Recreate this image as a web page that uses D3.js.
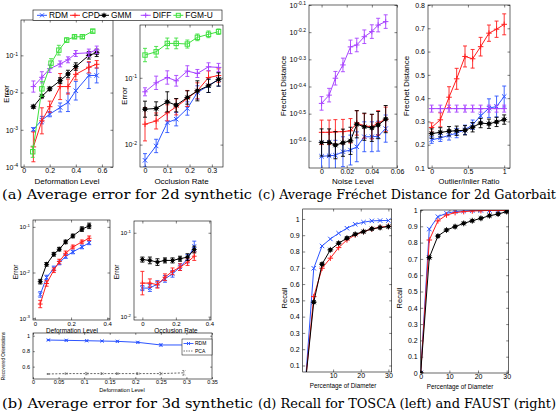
<!DOCTYPE html>
<html><head><meta charset="utf-8">
<script src="https://cdn.jsdelivr.net/npm/d3@7"></script>
<style>body{margin:0;background:#fff}svg{display:block}</style>
</head><body>
<svg id="c" width="559" height="413"></svg>
<script>
// ---------- (a) 2d synthetic : deformation ----------
const aDefX    = [0.075, 0.14, 0.2, 0.28, 0.34, 0.4, 0.5, 0.56];
const aDefXFgm = [0.07, 0.14, 0.21, 0.27, 0.33, 0.39, 0.45, 0.53];
const aDefRDM  = [0.00102, 0.00182, 0.00263, 0.00398, 0.0055, 0.0112, 0.0288, 0.0288];
const aDefCPD  = [0.000347, 0.00174, 0.00417, 0.0145, 0.0145, 0.0309, 0.0479, 0.0575];
const aDefGMM  = [0.00417, 0.00794, 0.0126, 0.0209, 0.0316, 0.0501, 0.1, 0.117];
const aDefDIFF = [0.0145, 0.0257, 0.0437, 0.0589, 0.0759, 0.112, 0.117, 0.141];
const aDefFGM  = [0.000257, 0.0126, 0.0617, 0.138, 0.257, 0.316, 0.316, 0.447];
const aDefRDMe  = [0.05, 0.1, 0.07, 0.12, 0.25, 0.25, 0.35, 0.2];
const aDefCPDe  = [0.4, 0.35, 0.15, 0.35, 0.2, 0.15, 0.15, 0.1];
const aDefGMMe  = [0.04, 0.04, 0.05, 0.08, 0.1, 0.1, 0.1, 0.1];
const aDefDIFFe = [0.15, 0.15, 0.1, 0.08, 0.08, 0.08, 0.1, 0.1];
const aDefFGMe  = [0.15, 0.2, 0.12, 0.13, 0.06, 0.05, 0.05, 0.05];
// ---------- (a) 2d synthetic : occlusion ----------
const aOccX    = [0, 0.05, 0.1, 0.14, 0.19, 0.235, 0.285, 0.33];
const aOccRDM  = [0.00582, 0.00955, 0.0214, 0.024, 0.0347, 0.0603, 0.0759, 0.0944];
const aOccCPD  = [0.0202, 0.0226, 0.0299, 0.0367, 0.049, 0.0638, 0.101, 0.108];
const aOccGMM  = [0.0339, 0.0347, 0.0437, 0.0389, 0.0507, 0.0638, 0.0759, 0.0944];
const aOccDIFF = [0.0617, 0.0841, 0.101, 0.0902, 0.126, 0.116, 0.146, 0.143];
const aOccFGM  = [0.219, 0.245, 0.327, 0.327, 0.32, 0.403, 0.447, 0.49];
const aOccRDMe  = [0.1, 0.1, 0.15, 0.1, 0.1, 0.1, 0.1, 0.1];
const aOccCPDe  = [0.25, 0.12, 0.12, 0.12, 0.12, 0.12, 0.1, 0.1];
const aOccGMMe  = [0.12, 0.1, 0.15, 0.1, 0.1, 0.15, 0.1, 0.1];
const aOccDIFFe = [0.06, 0.1, 0.1, 0.08, 0.08, 0.06, 0.06, 0.06];
const aOccFGMe  = [0.1, 0.08, 0.08, 0.08, 0.06, 0.05, 0.05, 0.04];
// ---------- (c) Gatorbait : noise ----------
const cNoiseX    = [0, 0.006, 0.011, 0.017, 0.023, 0.028, 0.034, 0.04, 0.045, 0.051];
const cNoiseRDM  = [0.2203, 0.2213, 0.2223, 0.2291, 0.2323, 0.2388, 0.26, 0.26, 0.2612, 0.2786];
const cNoiseCPD  = [0.27, 0.27, 0.271, 0.2716, 0.2735, 0.2924, 0.2851, 0.2831, 0.2924, 0.3013];
const cNoiseGMM  = [0.2477, 0.2477, 0.2421, 0.2472, 0.2512, 0.2891, 0.2831, 0.2805, 0.2871, 0.302];
const cNoiseDIFF = [0.345, 0.37, 0.427, 0.478, 0.557, 0.566, 0.607, 0.634, 0.67, 0.69];
const cNoiseRDMe  = [0.055, 0.055, 0.055, 0.055, 0.055, 0.055, 0.055, 0.055, 0.055, 0.05];
const cNoiseCPDe  = [0.045, 0.045, 0.045, 0.045, 0.045, 0.045, 0.045, 0.045, 0.045, 0.045];
const cNoiseGMMe  = [0.05, 0.05, 0.05, 0.05, 0.05, 0.05, 0.05, 0.05, 0.05, 0.05];
const cNoiseDIFFe = [0.025, 0.025, 0.025, 0.025, 0.025, 0.025, 0.025, 0.025, 0.025, 0.025];
// ---------- (c) Gatorbait : outliers ----------
const cOutX    = [0, 0.12, 0.24, 0.345, 0.46, 0.565, 0.675, 0.79, 0.895, 1];
const cOutRDM  = [0.221, 0.229, 0.24, 0.25, 0.264, 0.286, 0.324, 0.357, 0.364, 0.407];
const cOutCPD  = [0.274, 0.307, 0.404, 0.483, 0.579, 0.569, 0.621, 0.679, 0.696, 0.717];
const cOutGMM  = [0.248, 0.253, 0.258, 0.26, 0.262, 0.275, 0.293, 0.29, 0.298, 0.308];
const cOutDIFF = [0.355, 0.355, 0.355, 0.355, 0.355, 0.355, 0.355, 0.355, 0.355, 0.355];
const cOutRDMe  = [0.015, 0.015, 0.02, 0.02, 0.02, 0.02, 0.03, 0.04, 0.045, 0.045];
const cOutCPDe  = [0.02, 0.03, 0.045, 0.045, 0.045, 0.04, 0.04, 0.035, 0.035, 0.045];
const cOutGMMe  = [0.02, 0.02, 0.02, 0.02, 0.02, 0.02, 0.02, 0.02, 0.02, 0.02];
const cOutDIFFe = [0.015, 0.015, 0.015, 0.015, 0.015, 0.015, 0.015, 0.015, 0.015, 0.015];
// ---------- (b) 3d synthetic ----------
const bDefX   = [0.03, 0.065, 0.105, 0.135, 0.17, 0.21, 0.26, 0.3];
const bDefRDM = [0.00331, 0.00776, 0.0123, 0.0162, 0.0224, 0.0282, 0.0363, 0.0447];
const bDefCPD = [0.00204, 0.00575, 0.0112, 0.0174, 0.0263, 0.0363, 0.0468, 0.0562];
const bDefGMM = [0.00631, 0.0151, 0.0251, 0.0324, 0.0468, 0.0631, 0.0891, 0.105];
const bDefRDMe = [0.06, 0.05, 0.05, 0.04, 0.04, 0.04, 0.04, 0.04];
const bDefCPDe = [0.08, 0.06, 0.05, 0.05, 0.05, 0.04, 0.04, 0.05];
const bDefGMMe = [0.05, 0.04, 0.04, 0.04, 0.04, 0.04, 0.05, 0.06];
const bOccX   = [0, 0.045, 0.09, 0.135, 0.18, 0.225, 0.27, 0.31];
const bOccRDM = [0.0219, 0.0219, 0.0245, 0.0282, 0.0324, 0.0389, 0.049, 0.0692];
const bOccCPD = [0.0251, 0.0251, 0.024, 0.0295, 0.0347, 0.0389, 0.0447, 0.0525];
const bOccGMM = [0.0479, 0.0468, 0.0447, 0.0468, 0.0468, 0.049, 0.0513, 0.0631];
const bOccRDMe = [0.03, 0.04, 0.04, 0.04, 0.04, 0.04, 0.05, 0.06];
const bOccCPDe = [0.14, 0.05, 0.04, 0.04, 0.04, 0.04, 0.04, 0.05];
const bOccGMMe = [0.03, 0.04, 0.04, 0.03, 0.03, 0.03, 0.04, 0.04];
const bOriX   = [0.03, 0.065, 0.105, 0.135, 0.165, 0.205, 0.25, 0.295];
const bOriRDM = [0.944, 0.94, 0.935, 0.931, 0.927, 0.914, 0.88, 0.88];
const bOriPCA = [0.505, 0.51, 0.51, 0.51, 0.51, 0.51, 0.51, 0.52];
const bOriRDMe = [0.006, 0.006, 0.005, 0.005, 0.006, 0.006, 0.012, 0.01];
const bOriPCAe = [0.005, 0.008, 0.015, 0.01, 0.01, 0.012, 0.015, 0.03];
// ---------- (d) Recall ----------
const dPctX = [0, 3, 6, 9, 12, 15, 18, 21, 24, 27, 30];
const dToscaRDM = [0, 0.697, 0.834, 0.877, 0.912, 0.943, 0.967, 0.98, 0.988, 0.99, 0.99];
const dToscaCPD = [0, 0.523, 0.697, 0.759, 0.824, 0.871, 0.902, 0.922, 0.939, 0.949, 0.955];
const dToscaGMM = [0, 0.489, 0.722, 0.81, 0.851, 0.882, 0.906, 0.922, 0.939, 0.947, 0.953];
const dFaustRDM = [0, 0.883, 0.959, 0.98, 0.99, 0.994, 0.996, 0.997, 0.997, 0.998, 0.999];
const dFaustCPD = [0, 0.816, 0.933, 0.969, 0.984, 0.99, 0.994, 0.996, 0.997, 0.997, 0.997];
const dFaustGMM = [0, 0.708, 0.84, 0.877, 0.898, 0.918, 0.934, 0.949, 0.965, 0.975, 0.99];

const methods = ['RDM', 'CPD', 'GMM', 'DIFF', 'FGM-U'];
const COL = {RDM:'#2d55ff', CPD:'#ff1e1e', GMM:'#000000', DIFF:'#a844ff', 'FGM-U':'#3fe03f', PCA:'#666666'};
const MARK = {RDM:'x', CPD:'+', GMM:'*', DIFF:'+', 'FGM-U':'s', PCA:'none'};

const svg = d3.select('#c');
const SANS = 'Liberation Sans, Arial, Helvetica, sans-serif';
let clipN = 0;

function drawMarker(g, type, px, py, col, s) {
  if (type === 'x') {
    g.append('path').attr('d', `M${px-s},${py-s}L${px+s},${py+s}M${px-s},${py+s}L${px+s},${py-s}`)
      .attr('stroke', col).attr('stroke-width', 1).attr('fill', 'none');
  } else if (type === '+') {
    const t = s * 1.25;
    g.append('path').attr('d', `M${px-t},${py}L${px+t},${py}M${px},${py-t}L${px},${py+t}`)
      .attr('stroke', col).attr('stroke-width', 1).attr('fill', 'none');
  } else if (type === 's') {
    g.append('rect').attr('x', px-s).attr('y', py-s).attr('width', 2*s).attr('height', 2*s)
      .attr('stroke', col).attr('stroke-width', 1).attr('fill', 'none');
  } else if (type === '*') {
    g.append('circle').attr('cx', px).attr('cy', py).attr('r', s*0.95).attr('fill', col);
    const t = s * 1.35, u = t * 0.72;
    g.append('path').attr('d', `M${px-t},${py}L${px+t},${py}M${px},${py-t}L${px},${py+t}M${px-u},${py-u}L${px+u},${py+u}M${px-u},${py+u}L${px+u},${py-u}`)
      .attr('stroke', col).attr('stroke-width', 0.8).attr('fill', 'none');
  }
}

function panel(o) {
  const [x0, y0, x1, y1] = o.box;
  const g = svg.append('g');
  const x = d3.scaleLinear().domain(o.xd).range([x0, x1]);
  const y = (o.log ? d3.scaleLog() : d3.scaleLinear()).domain(o.yd).range([y1, y0]);
  const id = 'clip' + (++clipN);
  svg.append('clipPath').attr('id', id).append('rect')
    .attr('x', x0).attr('y', y0).attr('width', x1 - x0).attr('height', y1 - y0);
  const ts = o.ts || 2.5, fs = o.fs || 7;
  const clean = s => { s.select('.domain').remove(); s.attr('font-family', SANS).attr('font-size', fs);
    s.selectAll('.tick line').attr('stroke-width', 0.5); };
  const bx = g.append('g').attr('transform', `translate(0,${y1})`)
    .call(d3.axisBottom(x).tickValues(o.xt).tickSize(-ts).tickPadding(o.xpad || 1.5).tickFormat(o.xf || (d => d)));
  clean(bx);
  const tx = g.append('g').attr('transform', `translate(0,${y0})`)
    .call(d3.axisTop(x).tickValues(o.xt).tickSize(-ts).tickFormat(''));
  clean(tx);
  const ly = g.append('g').attr('transform', `translate(${x0},0)`)
    .call(d3.axisLeft(y).tickValues(o.yt).tickSize(-ts).tickPadding(o.ypad || 3).tickFormat(o.yf || (d => d)));
  clean(ly);
  if (o.sup) {
    ly.selectAll('.tick text').each(function(d) {
      const t = d3.select(this); t.text(null);
      t.append('tspan').text('10');
      t.append('tspan').attr('dy', '-0.5em').attr('font-size', '0.72em').text(o.sup(d));
    });
  }
  const ry = g.append('g').attr('transform', `translate(${x1},0)`)
    .call(d3.axisRight(y).tickValues(o.yt).tickSize(-ts).tickFormat(''));
  clean(ry);
  const sg = g.append('g').attr('clip-path', `url(#${id})`);
  const cw = o.cap || 2;
  o.series.forEach(s => {
    const col = COL[s.name];
    const pts = s.x.map((xv, i) => ({x: xv, y: s.y[i], e: s.e ? s.e[i] : 0}));
    if (s.e) {
      pts.forEach(p => {
        const lo = o.log ? p.y / Math.pow(10, p.e) : p.y - p.e;
        const hi = o.log ? p.y * Math.pow(10, p.e) : p.y + p.e;
        const px = x(p.x);
        sg.append('path').attr('d',
          `M${px},${y(lo)}L${px},${y(hi)}M${px-cw},${y(lo)}L${px+cw},${y(lo)}M${px-cw},${y(hi)}L${px+cw},${y(hi)}`)
          .attr('stroke', col).attr('stroke-width', 0.9).attr('fill', 'none')
          .attr('stroke-dasharray', s.name === 'PCA' ? '1.5,1' : null);
      });
    }
    sg.append('path').datum(pts)
      .attr('d', d3.line().x(p => x(p.x)).y(p => y(p.y)))
      .attr('fill', 'none').attr('stroke', col).attr('stroke-width', o.lw || 1)
      .attr('stroke-dasharray', s.name === 'PCA' ? '2,1.5' : null);
    pts.forEach(p => drawMarker(sg, MARK[s.name], x(p.x), y(p.y), col, o.ms || 2.2));
  });
  g.append('rect').attr('x', x0).attr('y', y0).attr('width', x1 - x0).attr('height', y1 - y0)
    .attr('fill', 'none').attr('stroke', '#000').attr('stroke-width', 0.6);
  if (o.xl) g.append('text').attr('x', o.xl[1]).attr('y', o.xl[2]).attr('text-anchor', 'middle')
    .attr('font-family', SANS).attr('font-size', o.xl[3]).text(o.xl[0]);
  if (o.yl) g.append('text').attr('transform', `translate(${o.yl[1]},${o.yl[2]}) rotate(-90)`)
    .attr('text-anchor', 'middle').attr('font-family', SANS).attr('font-size', o.yl[3]).text(o.yl[0]);
  return {g, x, y};
}

const ser = (names, xs, ys, es) => names.map((n, i) => ({name: n, x: Array.isArray(xs[0]) ? xs[i] : xs, y: ys[i], e: es ? es[i] : null}));
const intExp = d => '-' + Math.round(-Math.log10(d));
const decExp = d => '-' + (-Math.log10(d)).toFixed(1);

panel({box: [21, 20, 113, 167], xd: [-0.02, 0.685], yd: [1e-4, Math.pow(10, -0.05)], log: true,
  xt: [0, 0.2, 0.4, 0.6], yt: [1e-4, 1e-3, 1e-2, 1e-1], sup: intExp,
  series: ser(methods, [aDefX, aDefX, aDefX, aDefX, aDefXFgm], [aDefRDM, aDefCPD, aDefGMM, aDefDIFF, aDefFGM],
    [aDefRDMe, aDefCPDe, aDefGMMe, aDefDIFFe, aDefFGMe]),
  xl: ['Deformation Level', 67, 183.5, 8], yl: ['Error', 9, 94, 8]});
panel({box: [140, 25, 223, 167], xd: [-0.0225, 0.35], yd: [Math.pow(10, -2.335), Math.pow(10, -0.21)], log: true,
  xt: [0, 0.1, 0.2, 0.3], yt: [1e-2, 1e-1], sup: intExp,
  series: ser(methods, aOccX, [aOccRDM, aOccCPD, aOccGMM, aOccDIFF, aOccFGM],
    [aOccRDMe, aOccCPDe, aOccGMMe, aOccDIFFe, aOccFGMe]),
  xl: ['Occlusion Rate', 181.5, 183.5, 8], yl: ['Error', 127, 96, 8]});
panel({box: [309, 5, 397, 168], xd: [-0.01, 0.06], yd: [Math.pow(10, -0.7), Math.pow(10, -0.1)], log: true,
  xt: [0, 0.02, 0.04, 0.06], yt: [-0.6, -0.5, -0.4, -0.3, -0.2, -0.1].map(e => Math.pow(10, e)), sup: decExp,
  series: ser(['RDM', 'CPD', 'GMM', 'DIFF'], cNoiseX, [cNoiseRDM, cNoiseCPD, cNoiseGMM, cNoiseDIFF],
    [cNoiseRDMe, cNoiseCPDe, cNoiseGMMe, cNoiseDIFFe]),
  xl: ['Noise Level', 353, 183.5, 8], yl: ['Frechet Distance', 286, 86, 8]});
panel({box: [428, 5, 510, 168], xd: [-0.05, 1.08], yd: [0.1, 0.8],
  xt: [0, 0.5, 1], yt: [0.1, 0.2, 0.3, 0.4, 0.5, 0.6, 0.7, 0.8],
  series: ser(['RDM', 'CPD', 'GMM', 'DIFF'], cOutX, [cOutRDM, cOutCPD, cOutGMM, cOutDIFF],
    [cOutRDMe, cOutCPDe, cOutGMMe, cOutDIFFe]),
  xl: ['Outlier/Inlier Ratio', 469, 183.5, 7.6], yl: ['Frechet Distance', 409, 86, 8]});
panel({box: [33, 220, 110, 320], xd: [-0.01, 0.415], yd: [Math.pow(10, -3.04), Math.pow(10, -0.85)], log: true,
  xt: [0, 0.2, 0.4], yt: [1e-3, 1e-2, 1e-1], sup: intExp, fs: 6, ms: 1.9, xpad: 1.5,
  series: ser(['RDM', 'CPD', 'GMM'], bDefX, [bDefRDM, bDefCPD, bDefGMM], [bDefRDMe, bDefCPDe, bDefGMMe]),
  xl: ['Deformation Level', 72, 333, 6.4], yl: ['Error', 18, 272, 6.6]});
panel({box: [134, 221, 211, 320], xd: [-0.05, 0.41], yd: [Math.pow(10, -2.04), Math.pow(10, -0.86)], log: true,
  xt: [0, 0.2, 0.4], yt: [1e-2, 1e-1], sup: intExp, fs: 6, ms: 1.9, xpad: 1.5,
  series: ser(['RDM', 'CPD', 'GMM'], bOccX, [bOccRDM, bOccCPD, bOccGMM], [bOccRDMe, bOccCPDe, bOccGMMe]),
  xl: ['Occlusion Rate', 176, 333, 6.4], yl: ['Error', 119, 272, 6.6]});
panel({box: [33, 333, 212, 379], xd: [0, 0.35], yd: [0.44, 1.035],
  xt: [0, 0.05, 0.1, 0.15, 0.2, 0.25, 0.3, 0.35], yt: [0.6, 0.8, 1], fs: 5.5, ms: 1.6, ts: 1.8, xpad: 1.5, cap: 1.5,
  series: ser(['RDM', 'PCA'], bOriX, [bOriRDM, bOriPCA], [bOriRDMe, bOriPCAe]),
  xl: ['Deformation Level', 122, 392, 5.6], yl: ['Recovered Orientations', 5, 356, 4.6]});
const fmt1 = d => d === 1 ? '1' : d === 0 ? '0' : d.toFixed(1);
panel({box: [302.7, 209, 391.7, 372], xd: [-1, 31.2], yd: [0.06, 1.061],
  xt: [10, 20, 30], yt: [0.1, 0.2, 0.3, 0.4, 0.5, 0.6, 0.7, 0.8, 0.9, 1], yf: fmt1, fs: 7, ms: 2.2, xpad: 1,
  series: ser(['RDM', 'CPD', 'GMM'], dPctX, [dToscaRDM, dToscaCPD, dToscaGMM]),
  xl: ['Percentage of Diameter', 343, 387.5, 6.3], yl: ['Recall', 287, 298, 7.5]});
panel({box: [420.7, 210, 508.7, 373], xd: [0, 30.7], yd: [0, 1],
  xt: [0, 10, 20, 30], yt: [0, 0.1, 0.2, 0.3, 0.4, 0.5, 0.6, 0.7, 0.8, 0.9, 1], yf: fmt1, fs: 7, ms: 2.2, xpad: 1,
  series: ser(['RDM', 'CPD', 'GMM'], dPctX, [dFaustRDM, dFaustCPD, dFaustGMM]),
  xl: ['Percentage of Diameter', 460, 388.5, 6.3], yl: ['Recall', 402, 298, 7.5]});

// legend for (a)
const lg = svg.append('g');
lg.append('rect').attr('x', 33).attr('y', 10).attr('width', 189).attr('height', 10.5)
  .attr('fill', '#fff').attr('stroke', '#000').attr('stroke-width', 0.6);
const legX = [37, 70, 99, 140.7, 173.3];
methods.forEach((m, i) => {
  const lx = legX[i], ly = 15.3;
  lg.append('line').attr('x1', lx).attr('x2', lx + 10).attr('y1', ly).attr('y2', ly)
    .attr('stroke', COL[m]).attr('stroke-width', 1);
  drawMarker(lg, MARK[m], lx + 5, ly, COL[m], 2);
  lg.append('text').attr('x', lx + 12).attr('y', ly + 3.1).attr('font-family', SANS)
    .attr('font-size', 8.4).text(m);
});
// legend for (b) bottom
const lb = svg.append('g');
lb.append('rect').attr('x', 182).attr('y', 339).attr('width', 30).attr('height', 16)
  .attr('fill', '#fff').attr('stroke', '#000').attr('stroke-width', 0.5);
[['RDM', 343.5], ['PCA', 351]].forEach(([m, ly]) => {
  lb.append('line').attr('x1', 183.5).attr('x2', 193.5).attr('y1', ly).attr('y2', ly)
    .attr('stroke', COL[m]).attr('stroke-width', 0.9).attr('stroke-dasharray', m === 'PCA' ? '1.5,1' : null);
  drawMarker(lb, MARK[m], 188.5, ly, COL[m], 1.5);
  lb.append('text').attr('x', 195).attr('y', ly + 1.8).attr('font-family', SANS).attr('font-size', 5).text(m);
});

// captions
const SERIF = 'DejaVu Serif, serif';
const captions = [
  ['(a) Average error for 2d synthetic', 2, 198.5, 250],
  ['(c) Average Fréchet Distance for 2d Gatorbait', 258, 198.5, 298],
  ['(b) Average error for 3d synthetic', 2, 408, 251],
  ['(d) Recall for TOSCA (left) and FAUST (right)', 258, 408, 298]
];
captions.forEach(([t, cx, cy, len]) => {
  svg.append('text').attr('x', cx).attr('y', cy).attr('font-family', SERIF).attr('font-size', 12.8)
    .attr('textLength', len).attr('lengthAdjust', 'spacingAndGlyphs').text(t);
});
</script>
</body></html>
